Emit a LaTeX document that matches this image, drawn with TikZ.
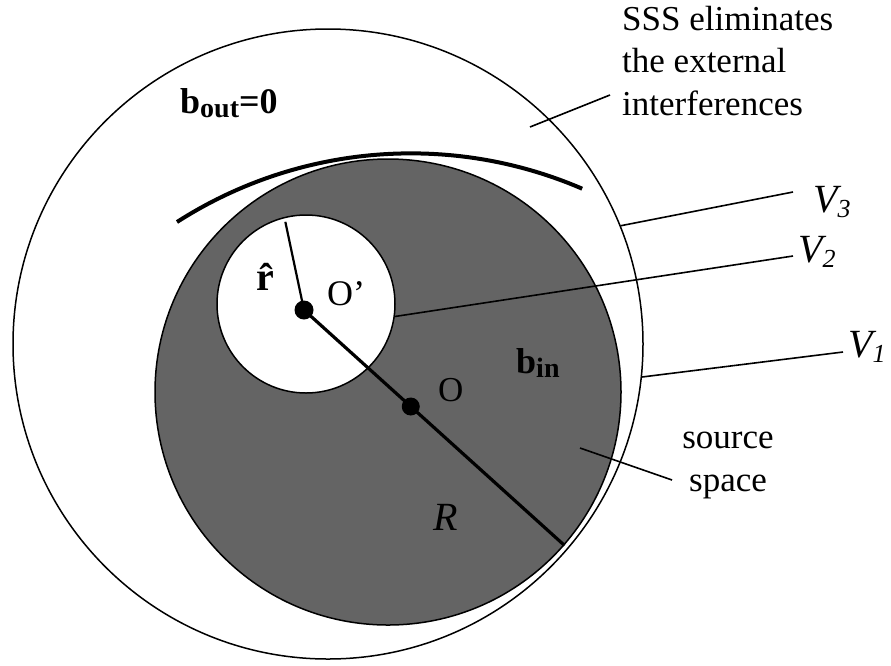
\documentclass[tikz,border=0pt]{standalone}
\usepackage{fontspec}
\setmainfont{Liberation Serif}
\usetikzlibrary{calc}
\definecolor{srcgray}{RGB}{100,100,100}
\newcommand{\lowsub}[2][26]{\raisebox{-0.3ex}{\fontsize{#1}{#1}\selectfont #2}}
\tikzset{
  sphere/.style={draw, circle, inner sep=0pt, line width=1.5pt},
  leader/.style={line width=1.6pt},
  spot/.style={circle, fill=black, inner sep=0pt, minimum size=19pt},
  note/.style={inner sep=0pt, font=\fontsize{35}{42.5}\selectfont},
  volname/.style={inner sep=0pt, anchor=base west, font=\fontsize{40}{40}\selectfont\itshape},
  sym/.style={inner sep=0pt, anchor=base west},
}

\begin{document}
\begin{tikzpicture}[x=1pt, y=-1pt]
  \useasboundingbox (0,0) rectangle (891,665);
  \node[sphere, minimum size=630pt] (outer) at (328,344) {};
  \node[sphere, fill=srcgray, minimum size=466pt] (source) at (388,392) {};
  \node[sphere, fill=white, minimum size=178pt] (hole) at (306,304) {};
  \draw[line width=4pt] (177,222) arc[start angle=-122.7, end angle=-66.7, radius=433];

  \node[spot] (oprime) at (304,310) {};
  \draw[line width=3.2pt] (oprime.center) -- (source.-41.3);
  \node[spot, minimum size=18pt] (ocentre) at ($(oprime.center)!0.41!(source.-41.3)$) {};
  \draw[line width=2.2pt, shorten >=5pt] (oprime.center) -- (hole.104);

  \coordinate (v3tip) at (793,192);
  \coordinate (v2tip) at (793,256);
  \coordinate (v1tip) at (843,352);
  \coordinate (ssstail) at (530,127);
  \coordinate (ssstip) at (610,95);
  \coordinate (srctail) at (580,448);
  \coordinate (srctip) at (672,480);
  \draw[leader] (outer.22.5) -- (v3tip);
  \draw[leader] (hole.-8.8) -- (v2tip);
  \draw[leader] (outer.-6.2) -- (v1tip);
  \draw[leader] (ssstail) -- (ssstip);
  \draw[leader] (srctail) -- (srctip);

  \node[note, anchor=north west, align=left] (sss) at (622,6)
    {SSS eliminates\\the external\\interferences};
  \node[note, anchor=north, align=center] (srcspace) at (728,432) {source\\space};
  \node[volname] (v3) at (813,212) {V\lowsub{3}};
  \node[volname] (v2) at (798,262) {V\lowsub{2}};
  \node[volname] (v1) at (848,357) {V\lowsub{1}};
  \node[sym, font=\fontsize{36}{36}\selectfont\bfseries] (bout) at (180,113) {b\lowsub[28]{out}=0};
  \node[sym, font=\fontsize{36}{36}\selectfont\bfseries] (bin) at (516,373) {b\lowsub[28]{in}};
  \node[sym, font=\fontsize{40}{40}\selectfont\bfseries] (rhat) at (256,290) {\^{r}};
  \node[sym, font=\fontsize{36}{36}\selectfont] (oplabel) at (327,305) {O'};
  \node[sym, font=\fontsize{35}{35}\selectfont] (olabel) at (438,401) {O};
  \node[sym, font=\fontsize{40}{40}\selectfont\itshape] (rlabel) at (433,530) {R};
\end{tikzpicture}
\end{document}
